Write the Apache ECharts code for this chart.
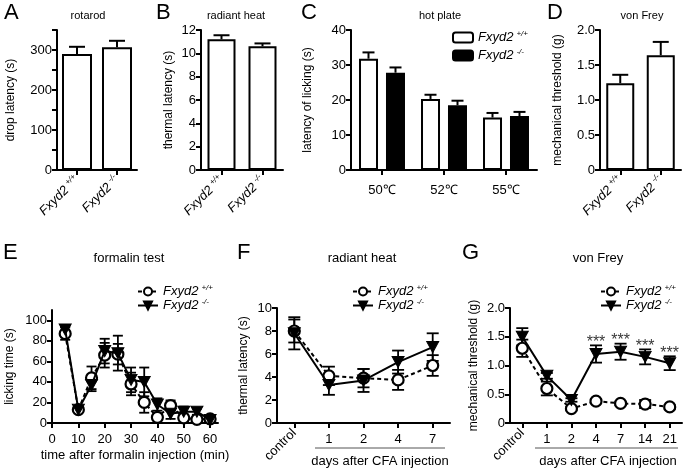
<!DOCTYPE html>
<html><head><meta charset="utf-8">
<script src="https://cdn.jsdelivr.net/npm/echarts@6/dist/echarts.min.js"></script>
<style>html,body{margin:0;padding:0;background:#fff}#c{width:685px;height:470px}</style>
</head><body><div id="c"></div>
<script>
// ---------- data ----------
const genotypes = ['+/+', '-/-'];
const rotarodMean = [290, 307];
const rotarodErr = [18, 16];
const radiantMean = [11.2, 10.6];
const radiantErr = [0.35, 0.25];
const hotCats = ['50℃', '52℃', '55℃'];
const hotWT = [31.8, 20.3, 15.0];
const hotWTErr = [1.8, 1.2, 1.3];
const hotKO = [27.8, 18.5, 15.4];
const hotKOErr = [1.5, 1.3, 1.2];
const vfBaseMean = [1.24, 1.64];
const vfBaseErr = [0.12, 0.19];
const formalinX = [5, 10, 15, 20, 25, 30, 35, 40, 45, 50, 55, 60];
const formWT = [87, 13, 44, 66, 67, 38, 20, 5.5, 17, 5, 3.5, 4];
const formWTErr = [6, 2, 11, 12, 10, 11, 10, 2, 5, 3, 2, 2];
const formKO = [91, 13, 37, 70, 68, 42, 40, 18, 9, 11, 11, 3];
const formKOErr = [3, 2, 6, 12, 17, 12, 14, 6, 5, 5, 3, 2];
const cfaCatsF = ['control', '1', '2', '4', '7'];
const radWT = [8.0, 4.1, 3.9, 3.75, 5.0];
const radWTErr = [1.0, 0.8, 0.8, 0.87, 0.9];
const radKO = [7.8, 3.3, 3.7, 5.3, 6.6];
const radKOErr = [1.4, 0.85, 1.0, 1.0, 1.2];
const cfaCatsG = ['control', '1', '2', '4', '7', '14', '21'];
const vfWT = [1.30, 0.60, 0.25, 0.38, 0.34, 0.33, 0.28];
const vfWTErr = [0.15, 0.12, 0.03, 0.03, 0.03, 0.07, 0.03];
const vfKO = [1.50, 0.82, 0.40, 1.20, 1.24, 1.15, 1.04];
const vfKOErr = [0.15, 0.05, 0.03, 0.15, 0.14, 0.13, 0.12];
const sigLabels = ['', '', '', '***', '***', '***', '***'];

// ---------- helpers ----------
const FONT = '"Liberation Sans", Arial, Helvetica, sans-serif';
const BLACK = '#000';
const genoOf = { hotWT: '+/+', hotKO: '-/-', formWT: '+/+', formKO: '-/-', radWT: '+/+', radKO: '-/-', vfWT: '+/+', vfKO: '-/-' };
const richGeno = {
  i: { fontStyle: 'italic', fontSize: 13, fontFamily: FONT, color: BLACK },
  s: { fontStyle: 'italic', fontSize: 8, fontFamily: FONT, color: BLACK, padding: [0, 0, 7, 3] }
};
function genoLabel(g) { return '{i|Fxyd2}{s|' + g + '}'; }

function axisCommon() {
  return {
    axisLine: { show: true, onZero: false, lineStyle: { color: BLACK, width: 2 } },
    axisTick: { show: true, length: 5, lineStyle: { color: BLACK, width: 2 } },
    splitLine: { show: false },
  };
}
function yAx(grid, min, max, interval, name, nameGap, labelFmt, extra) {
  return Object.assign({
    type: 'value', gridIndex: grid, min: min, max: max, interval: interval,
    name: name, nameLocation: 'middle', nameGap: nameGap, nameRotate: 90,
    nameTextStyle: { fontSize: 12, color: BLACK, fontFamily: FONT },
    axisLabel: { color: BLACK, fontSize: 13, fontFamily: FONT, margin: 5, formatter: labelFmt }
  }, axisCommon(), extra || {});
}
function errBars(opts) {
  return function (params, api) {
    const x = api.value(0), y = api.value(1), e = api.value(2);
    const top = api.coord([x, y + e]);
    const mid = api.coord([x, y]);
    const bot = api.coord([x, y - e]);
    const cx = mid[0] + (opts.dx || 0);
    const w = opts.cap;
    const st = { stroke: BLACK, lineWidth: opts.lw, fill: null };
    const ch = [
      { type: 'line', shape: { x1: cx, y1: top[1], x2: cx, y2: opts.upOnly ? mid[1] : bot[1] }, style: st },
      { type: 'line', shape: { x1: cx - w, y1: top[1], x2: cx + w, y2: top[1] }, style: st }
    ];
    if (!opts.upOnly) ch.push({ type: 'line', shape: { x1: cx - w, y1: bot[1], x2: cx + w, y2: bot[1] }, style: st });
    return { type: 'group', children: ch };
  };
}
function errSeries(xIdx, yIdx, xs, means, errs, opts, z) {
  return {
    type: 'custom', xAxisIndex: xIdx, yAxisIndex: yIdx, z: z || 5, silent: true,
    encode: { x: 0, y: 1 },
    renderItem: errBars(opts),
    data: means.map(function (m, i) { return [xs[i], m, errs[i]]; })
  };
}
const idx = function (arr) { return arr.map(function (_, i) { return i; }); };

const wtBarStyle = { color: '#fff', borderColor: BLACK, borderWidth: 2 };
const koBarStyle = { color: BLACK, borderColor: BLACK, borderWidth: 2 };
const wtLine = {
  symbol: 'circle', symbolSize: 11,
  itemStyle: { color: '#fff', borderColor: BLACK, borderWidth: 2.2 },
  lineStyle: { color: BLACK, width: 2, type: [4, 3] }, z: 3
};
const koLine = {
  symbol: 'triangle', symbolRotate: 180, symbolSize: [12, 11],
  itemStyle: { color: BLACK, borderColor: BLACK, borderWidth: 1 },
  lineStyle: { color: BLACK, width: 2 }, z: 4
};

function topXAxis(grid) {
  return Object.assign({
    type: 'category', gridIndex: grid, data: genotypes,
    axisLabel: { interval: 0, rotate: 45, margin: 8, formatter: genoLabel, rich: richGeno }
  }, axisCommon(), { axisTick: { show: true, alignWithLabel: true, length: 5, lineStyle: { color: BLACK, width: 2 } } });
}
function cfaAxes(grid, cats) {
  const main = Object.assign({
    type: 'category', gridIndex: grid, data: cats, position: 'bottom',
    axisLabel: { interval: 0, color: BLACK, fontSize: 13, fontFamily: FONT, margin: 10,
      formatter: function (v) { return v === 'control' ? '' : v; } }
  }, axisCommon(), { axisTick: { show: true, alignWithLabel: true, length: 5, lineStyle: { color: BLACK, width: 2 } } });
  const ctrl = {
    type: 'category', gridIndex: grid, data: cats, position: 'bottom',
    axisLine: { show: false }, axisTick: { show: false }, splitLine: { show: false },
    axisLabel: { interval: 0, rotate: 45, color: BLACK, fontSize: 13, fontFamily: FONT, margin: 8,
      formatter: function (v) { return v === 'control' ? v : ''; } }
  };
  return [main, ctrl];
}
const gridBase = { containLabel: false, outerBoundsMode: 'none' };
const G = function (l, t, w, h) { return Object.assign({ left: l, top: t, width: w, height: h }, gridBase); };

const [fMain, fCtrl] = cfaAxes(5, cfaCatsF);
const [gMain, gCtrl] = cfaAxes(6, cfaCatsG);

function lineLegend(left, top, names) {
  return { orient: 'vertical', left: left, top: top, padding: 0, itemWidth: 20, itemHeight: 10, itemGap: 0, data: names,
    formatter: function (n) { return genoLabel(genoOf[n]); }, textStyle: { rich: richGeno } };
}

const chart = echarts.init(document.getElementById('c'), null, { renderer: 'canvas' });
const option = {
  backgroundColor: '#fff',
  animation: false,
  textStyle: { fontFamily: FONT, color: BLACK },
  grid: [
    G(57, 30, 80, 140),    // A
    G(201, 30, 82, 140),   // B
    G(351, 30, 186, 140),  // C
    G(600, 30, 81, 140),   // D
    G(52, 310, 166, 113),  // E
    G(277, 308, 173, 115), // F
    G(510, 308, 172, 115)  // G
  ],
  xAxis: [
    topXAxis(0),
    topXAxis(1),
    Object.assign({
      type: 'category', gridIndex: 2, data: hotCats,
      axisLabel: { interval: 0, color: BLACK, fontSize: 13, fontFamily: FONT, margin: 14 }
    }, axisCommon(), { axisTick: { show: true, alignWithLabel: true, length: 5, lineStyle: { color: BLACK, width: 2 } } }),
    topXAxis(3),
    Object.assign({
      type: 'value', gridIndex: 4, min: 0, max: 63, interval: 10,
      name: 'time after formalin injection (min)', nameLocation: 'middle', nameGap: 26,
      nameTextStyle: { fontSize: 13, color: BLACK, fontFamily: FONT },
      axisLabel: { color: BLACK, fontSize: 13, fontFamily: FONT, margin: 10, customValues: [0, 10, 20, 30, 40, 50, 60] }
    }, axisCommon(), { axisTick: { show: true, length: 5, lineStyle: { color: BLACK, width: 2 }, customValues: [0, 10, 20, 30, 40, 50, 60] } }),
    fMain, fCtrl, gMain, gCtrl
  ],
  yAxis: [
    yAx(0, 0, 350, 50, 'drop latency (s)', 40, function (v) { return v % 100 === 0 ? String(v) : ''; }),
    yAx(1, 0, 12, 2, 'thermal latency (s)', 26),
    yAx(2, 0, 40, 10, 'latency of licking (s)', 37),
    yAx(3, 0, 2, 0.5, 'mechanical threshold (g)', 36, function (v) { return v === 0 ? '0' : v.toFixed(1); }),
    yAx(4, 0, 110, 20, 'licking time (s)', 36, null),
    yAx(5, 0, 10, 2, 'thermal latency (s)', 27),
    yAx(6, 0, 2, 0.5, 'mechanical threshold (g)', 30, function (v) { return v === 0 ? '0' : v.toFixed(1); })
  ],
  legend: [
    { orient: 'vertical', left: 452, top: 30, padding: 0, itemWidth: 20, itemHeight: 10, itemGap: 4, data: ['hotWT', 'hotKO'],
      formatter: function (n) { return genoLabel(genoOf[n]); }, textStyle: { rich: richGeno } },
    lineLegend(137, 284, ['formWT', 'formKO']),
    lineLegend(352, 284, ['radWT', 'radKO']),
    lineLegend(600, 284, ['vfWT', 'vfKO'])
  ],
  series: [
    // A rotarod
    { type: 'bar', name: 'rotarod', xAxisIndex: 0, yAxisIndex: 0, barWidth: 30, data: rotarodMean, itemStyle: wtBarStyle, z: 2 },
    errSeries(0, 0, idx(rotarodMean), rotarodMean, rotarodErr, { cap: 8, lw: 2, upOnly: true }),
    // B radiant heat
    { type: 'bar', name: 'radiant', xAxisIndex: 1, yAxisIndex: 1, barWidth: 28, data: radiantMean, itemStyle: wtBarStyle, z: 2 },
    errSeries(1, 1, idx(radiantMean), radiantMean, radiantErr, { cap: 8, lw: 2, upOnly: true }),
    // C hot plate
    { type: 'bar', name: 'hotWT', xAxisIndex: 2, yAxisIndex: 2, barWidth: 19, barGap: '42%', data: hotWT, itemStyle: wtBarStyle, z: 2 },
    { type: 'bar', name: 'hotKO', xAxisIndex: 2, yAxisIndex: 2, barWidth: 19, barGap: '42%', data: hotKO, itemStyle: koBarStyle, z: 2 },
    errSeries(2, 2, idx(hotWT), hotWT, hotWTErr, { cap: 6, lw: 2, upOnly: true, dx: -13.5 }),
    errSeries(2, 2, idx(hotKO), hotKO, hotKOErr, { cap: 6, lw: 2, upOnly: true, dx: 13.5 }),
    // D von Frey baseline
    { type: 'bar', name: 'vfBase', xAxisIndex: 3, yAxisIndex: 3, barWidth: 28, data: vfBaseMean, itemStyle: wtBarStyle, z: 2 },
    errSeries(3, 3, idx(vfBaseMean), vfBaseMean, vfBaseErr, { cap: 8, lw: 2, upOnly: true }),
    // E formalin
    errSeries(4, 4, formalinX, formWT, formWTErr, { cap: 5, lw: 1.8 }, 1),
    errSeries(4, 4, formalinX, formKO, formKOErr, { cap: 5, lw: 1.8 }, 1),
    Object.assign({ type: 'line', name: 'formWT', xAxisIndex: 4, yAxisIndex: 4,
      data: formWT.map(function (v, i) { return [formalinX[i], v]; }) }, wtLine),
    Object.assign({ type: 'line', name: 'formKO', xAxisIndex: 4, yAxisIndex: 4,
      data: formKO.map(function (v, i) { return [formalinX[i], v]; }) }, koLine),
    // F radiant heat CFA
    errSeries(5, 5, idx(radWT), radWT, radWTErr, { cap: 6, lw: 1.8 }, 1),
    errSeries(5, 5, idx(radKO), radKO, radKOErr, { cap: 6, lw: 1.8 }, 1),
    Object.assign({ type: 'line', name: 'radWT', xAxisIndex: 5, yAxisIndex: 5, data: radWT }, wtLine),
    Object.assign({ type: 'line', name: 'radKO', xAxisIndex: 5, yAxisIndex: 5, data: radKO }, koLine),
    // G von Frey CFA
    errSeries(7, 6, idx(vfWT), vfWT, vfWTErr, { cap: 6, lw: 1.8 }, 1),
    errSeries(7, 6, idx(vfKO), vfKO, vfKOErr, { cap: 6, lw: 1.8 }, 1),
    Object.assign({ type: 'line', name: 'vfWT', xAxisIndex: 7, yAxisIndex: 6, data: vfWT }, wtLine),
    Object.assign({ type: 'line', name: 'vfKO', xAxisIndex: 7, yAxisIndex: 6, data: vfKO }, koLine),
    { type: 'scatter', name: 'sig', xAxisIndex: 7, yAxisIndex: 6, symbolSize: 0, silent: true, z: 6,
      data: vfKO.map(function (v, i) { return sigLabels[i] ? [i, v + vfKOErr[i]] : [i, null]; }),
      label: { show: true, position: 'top', distance: -5, fontSize: 16, color: BLACK, fontFamily: FONT,
        formatter: function (p) { return sigLabels[p.dataIndex]; } } }
  ],
  graphic: [
    // panel letters
    { type: 'text', left: 4, top: 2, style: { text: 'A', fontSize: 22, fontFamily: FONT, fill: BLACK } },
    { type: 'text', left: 156, top: 2, style: { text: 'B', fontSize: 22, fontFamily: FONT, fill: BLACK } },
    { type: 'text', left: 301, top: 2, style: { text: 'C', fontSize: 22, fontFamily: FONT, fill: BLACK } },
    { type: 'text', left: 547, top: 2, style: { text: 'D', fontSize: 22, fontFamily: FONT, fill: BLACK } },
    { type: 'text', left: 3, top: 242, style: { text: 'E', fontSize: 22, fontFamily: FONT, fill: BLACK } },
    { type: 'text', left: 237, top: 242, style: { text: 'F', fontSize: 22, fontFamily: FONT, fill: BLACK } },
    { type: 'text', left: 462, top: 242, style: { text: 'G', fontSize: 22, fontFamily: FONT, fill: BLACK } },
    // panel titles
    { type: 'text', x: 88, y: 16, style: { text: 'rotarod', fontSize: 11, fontFamily: FONT, fill: BLACK, align: 'center', verticalAlign: 'middle' } },
    { type: 'text', x: 236, y: 16, style: { text: 'radiant heat', fontSize: 11, fontFamily: FONT, fill: BLACK, align: 'center', verticalAlign: 'middle' } },
    { type: 'text', x: 440, y: 16, style: { text: 'hot plate', fontSize: 11, fontFamily: FONT, fill: BLACK, align: 'center', verticalAlign: 'middle' } },
    { type: 'text', x: 642, y: 16, style: { text: 'von Frey', fontSize: 11, fontFamily: FONT, fill: BLACK, align: 'center', verticalAlign: 'middle' } },
    { type: 'text', x: 129, y: 258, style: { text: 'formalin test', fontSize: 13, fontFamily: FONT, fill: BLACK, align: 'center', verticalAlign: 'middle' } },
    { type: 'text', x: 362, y: 258, style: { text: 'radiant heat', fontSize: 13, fontFamily: FONT, fill: BLACK, align: 'center', verticalAlign: 'middle' } },
    { type: 'text', x: 598, y: 258, style: { text: 'von Frey', fontSize: 13, fontFamily: FONT, fill: BLACK, align: 'center', verticalAlign: 'middle' } },
    // CFA bracket lines and labels
    { type: 'line', shape: { x1: 315, y1: 448, x2: 445, y2: 448 }, style: { stroke: '#555', lineWidth: 1 } },
    { type: 'text', x: 380, y: 461, style: { text: 'days after CFA injection', fontSize: 13, fontFamily: FONT, fill: BLACK, align: 'center', verticalAlign: 'middle' } },
    { type: 'line', shape: { x1: 535, y1: 448, x2: 678, y2: 448 }, style: { stroke: '#555', lineWidth: 1 } },
    { type: 'text', x: 608, y: 461, style: { text: 'days after CFA injection', fontSize: 13, fontFamily: FONT, fill: BLACK, align: 'center', verticalAlign: 'middle' } }
  ]
};
chart.setOption(option);
</script></body></html>
